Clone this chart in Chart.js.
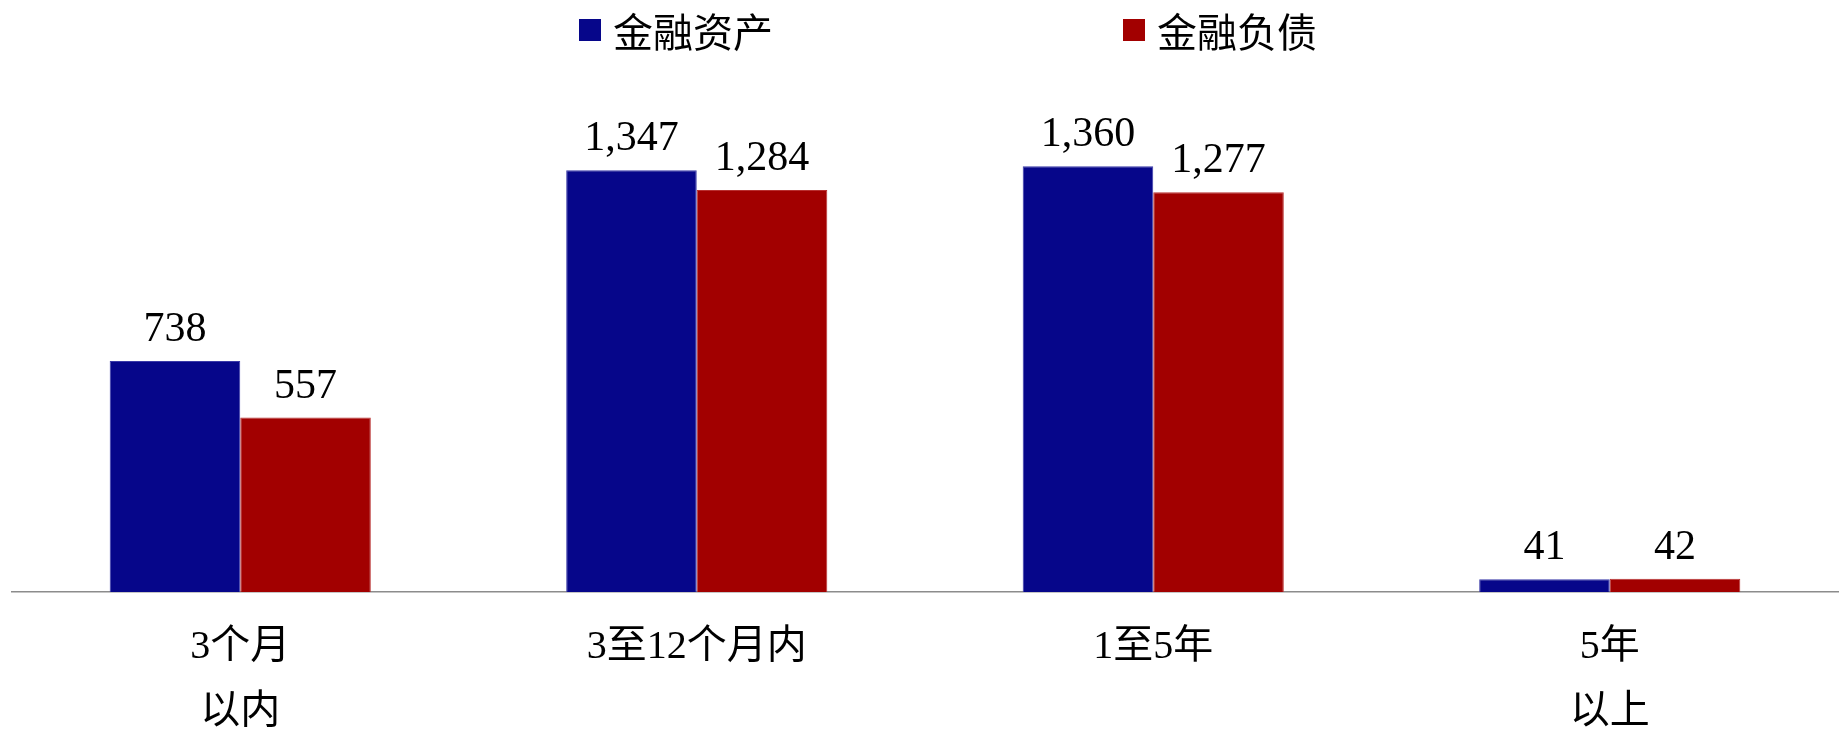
<!DOCTYPE html>
<html lang="zh">
<head>
    <meta charset="utf-8">
    <title>金融资产与金融负债期限分布</title>
    <script src="https://cdn.jsdelivr.net/npm/chart.js"></script>
    <style>
        body {
            margin: 0;
            padding: 0;
            background: #ffffff;
        }

        #wrap {
            position: relative;
            width: 1840px;
            height: 731px;
        }

        /* legend sits above the plot, one absolutely placed item per series */
        .legend-item {
            position: absolute;
            top: 8px;
            height: 44px;
            display: flex;
            align-items: center;
            font-family: 'Liberation Serif', 'Noto Sans CJK SC', serif;
            font-size: 40px;
            color: #000;
        }

        .legend-box {
            width: 22px;
            height: 22px;
            margin-right: 12px;
        }
    </style>
</head>
<body>

<div id="wrap">
    <div id="legend"></div>
    <canvas id="maturityChart"></canvas>
</div>

<script>
    const categories = [['3个月', '以内'], ['3至12个月内'], ['1至5年'], ['5年', '以上']];
    const seriesNames = ['金融资产', '金融负债'];
    const seriesColors = ['#06068A', '#A20000'];
    const assets = [738, 1347, 1360, 41];
    const liabilities = [557, 1284, 1277, 42];

    const legendLeft = [579, 1123];

    // html legend
    const legend = document.getElementById('legend');
    seriesNames.forEach((name, i) => {
        const item = document.createElement('div');
        item.className = 'legend-item';
        item.style.left = legendLeft[i] + 'px';
        item.innerHTML = '<span class="legend-box" style="background:' + seriesColors[i] + '"></span><span>' + name + '</span>';
        legend.appendChild(item);
    });

    // numbers above each bar
    const valueLabels = {
        id: 'valueLabels',
        afterDatasetsDraw(chart) {
            const ctx = chart.ctx;
            ctx.save();
            ctx.font = '42px "Liberation Serif", serif';
            ctx.fillStyle = '#000';
            ctx.textAlign = 'center';
            ctx.textBaseline = 'alphabetic';
            chart.data.datasets.forEach((ds, i) => {
                chart.getDatasetMeta(i).data.forEach((bar, j) => {
                    ctx.fillText(ds.data[j].toLocaleString('en-US'), bar.x, bar.y - 20);
                });
            });
            ctx.restore();
        }
    };

    const ctx = document.getElementById('maturityChart').getContext('2d');
    new Chart(ctx, {
        type: 'bar',
        data: {
            labels: categories,
            datasets: [
                {
                    label: seriesNames[0],
                    data: assets,
                    backgroundColor: seriesColors[0],
                    borderColor: '#3a3aa8',
                    borderWidth: 1
                },
                {
                    label: seriesNames[1],
                    data: liabilities,
                    backgroundColor: seriesColors[1],
                    borderColor: '#b83030',
                    borderWidth: 1
                }
            ]
        },
        options: {
            responsive: true,
            maintainAspectRatio: false,
            animation: false,
            datasets: {
                bar: {
                    barPercentage: 1.0,
                    categoryPercentage: 0.572
                }
            },
            layout: {
                padding: { top: 91, left: 12, right: 2, bottom: 0 }
            },
            scales: {
                x: {
                    grid: { display: false, drawTicks: false },
                    border: { display: true, color: '#8c8c8c', width: 1.5 },
                    ticks: {
                        color: '#000',
                        padding: 23,
                        maxRotation: 0,
                        autoSkip: false,
                        font: { family: "'Liberation Serif', 'Noto Sans CJK SC', serif", size: 40, lineHeight: 1.62 }
                    },
                    afterFit(scale) {
                        scale.height = 139;
                    }
                },
                y: {
                    display: false,
                    min: 0,
                    max: 1600
                }
            },
            plugins: {
                legend: { display: false },
                tooltip: { enabled: false }
            }
        },
        plugins: [valueLabels]
    });
</script>
</body>
</html>
